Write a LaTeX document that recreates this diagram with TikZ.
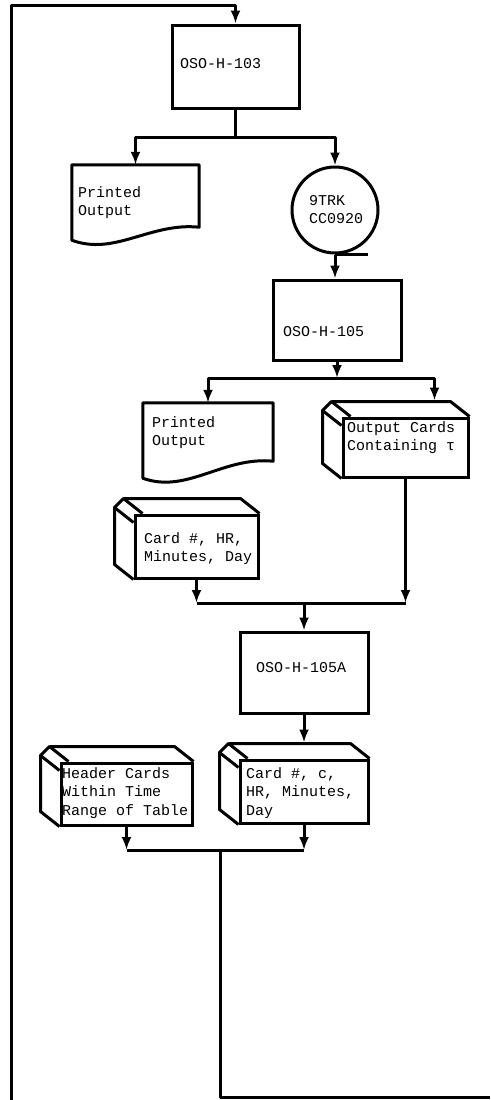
\documentclass[tikz,border=0pt]{standalone}
\usepackage{fontspec}
\newfontfamily\mono{Liberation Mono}
\usetikzlibrary{arrows.meta,calc}
\newcommand\mlines[1]{\vtop{\baselineskip=18.5pt\lineskiplimit=-20pt #1}}
\newcommand\cardsides[1]{%
  \draw[ln] ($(#1.north west)+(-10,-15)$) -- ($(#1.north east)+(-19,-15)$) -- (#1.north east);
  \draw[ln] ($(#1.north west)+(-19,-6)$) -- ($(#1.south west)+(-19,-15)$) -- (#1.south west);
  \draw[ln] ($(#1.north west)+(9,0)$) -- ($(#1.north west)+(-10,-15)$) -- ($(#1.north west)+(-19,-6)$) -- ($(#1.north west)+(0,9)$);
}
\tikzset{
  ln/.style={line width=3pt, line join=round},
  arr/.style={ln, -{Latex[length=13pt,width=10pt]}},
  proc/.style={draw, line width=3pt, inner sep=0pt},
  card/.style={draw, line width=3pt, inner sep=0pt},
  area/.style={inner sep=0pt},
  tape/.style={draw, circle, line width=3pt, inner sep=0pt, minimum size=86pt},
  txt/.style={anchor=base west, inner sep=0pt, font=\mono\fontsize{15}{18.5}\selectfont}
}
\begin{document}
\begin{tikzpicture}[x=1pt,y=-1pt]
\useasboundingbox (0,0) rectangle (490,1100);
\fill[white] (0,0) rectangle (490,1100);

% process boxes
\node[proc, minimum width=127pt, minimum height=83pt] (p103) at (235.5,66.5) {};
\node[proc, minimum width=128pt, minimum height=80pt] (p105) at (337,320) {};
\node[proc, minimum width=128pt, minimum height=81pt] (p105a) at (304,672.5) {};

% tape
\node[tape] (tape) at (335,210) {};
\draw[ln] (tape.south) -- ++(33,0);

% printed output documents
\node[area, minimum width=127pt, minimum height=75pt] (po1) at (135.5,202.5) {};
\draw[ln] (po1.south west) -- (po1.north west) -- (po1.north east) -- ($(po1.south east)+(0,-13)$)
  .. controls ($(po1.south east)+(-49,-18)$) and ($(po1.south west)+(43,16)$) .. (po1.south west) -- cycle;
\node[area, minimum width=130pt, minimum height=75pt] (po2) at (208,440.5) {};
\draw[ln] (po2.south west) -- (po2.north west) -- (po2.north east) -- ($(po2.south east)+(0,-17)$)
  .. controls ($(po2.south east)+(-50,-22)$) and ($(po2.south west)+(44,16)$) .. (po2.south west) -- cycle;

% cards
\node[card, minimum width=125pt, minimum height=59pt] (oc) at (405.5,447.5) {};
\cardsides{oc}
\node[card, minimum width=123pt, minimum height=63pt] (cn) at (196.5,546.5) {};
\cardsides{cn}
\node[card, minimum width=128pt, minimum height=63pt] (c0) at (304,791.5) {};
\cardsides{c0}
\node[card, minimum width=131pt, minimum height=62pt] (hd) at (126.5,794) {};
\cardsides{hd}

% texts
\node[txt] (t103) at (180,68) {OSO-H-103};
\node[txt] (tpo1) at (78,197) {\mlines{\hbox{Printed}\hbox{Output}}};
\node[txt] (ttape) at (309,205) {\mlines{\hbox{9TRK}\hbox{CC0920}}};
\node[txt] (t105) at (283,336) {OSO-H-105};
\node[txt] (tpo2) at (152,427) {\mlines{\hbox{Printed}\hbox{Output}}};
\node[txt] (toc) at (347,432) {\mlines{\hbox{Output Cards}\hbox{Containing τ}}};
\node[txt] (tcn) at (144,543) {\mlines{\hbox{Card \#, HR,}\hbox{Minutes, Day}}};
\node[txt] (t105a) at (256,672) {OSO-H-105A};
\node[txt] (tc0) at (246,778) {\mlines{\hbox{Card \#, c,}\hbox{HR, Minutes,}\hbox{Day}}};
\node[txt] (thd) at (62,778) {\mlines{\hbox{Header Cards}\hbox{Within Time}\hbox{Range of Table}}};

% coordinates
\coordinate (loopin) at (11,1100);
\coordinate (topc) at (235.5,5);
\coordinate (s1) at (235.5,137);
\coordinate (s2) at (337,378);
\coordinate (ocin) at ($(oc.north east)+(-35,-16)$);
\coordinate (j1) at (304,603);
\coordinate (c0in) at ($(c0.north)+(0,-16)$);
\coordinate (j2) at (220,850);
\coordinate (bot) at (220,1097);
\coordinate (botr) at (490,1097);

% connectors
\draw[arr] (loopin) |- (topc) -- (p103.north);
\draw[ln] (p103.south) -- (s1);
\draw[arr] (s1) -| (po1.north);
\draw[arr] (s1) -| (tape.north);
\draw[arr] (tape.south) -- (tape.south |- p105.north);
\draw[arr] (p105.south) -- (s2);
\draw[arr] (s2) -| (po2.north);
\draw[arr] (s2) -| (ocin);
\draw[arr] (cn.south) -- (cn.south |- j1);
\draw[arr] (oc.south) -- (oc.south |- j1);
\draw[ln] (cn.south |- j1) -- (oc.south |- j1);
\draw[arr] (j1) -- (p105a.north);
\draw[arr] (p105a.south) -- (c0in);
\draw[arr] (hd.south) -- (hd.south |- j2);
\draw[arr] (c0.south) -- (c0.south |- j2);
\draw[ln] (hd.south |- j2) -- (c0.south |- j2);
\draw[ln] (j2) -- (bot) -- (botr);
\end{tikzpicture}
\end{document}
